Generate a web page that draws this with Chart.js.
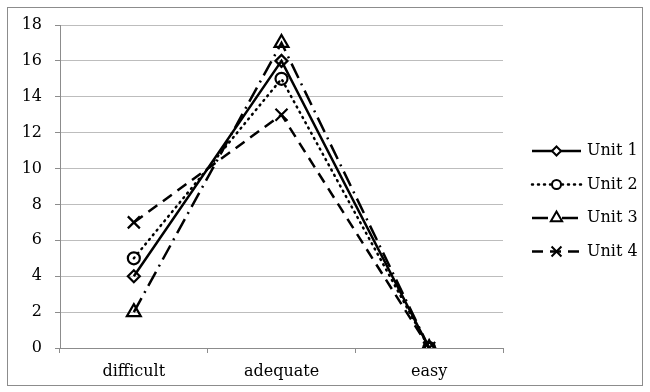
<!DOCTYPE html>
<html>
<head>
<meta charset="utf-8">
<script src="https://cdn.jsdelivr.net/npm/chart.js@4/dist/chart.umd.min.js"></script>
<style>
  html, body { margin: 0; padding: 0; background: #ffffff; }
  #wrap { width: 650px; height: 392px; position: relative; }
</style>
</head>
<body>
<div id="wrap"><canvas id="chart" width="650" height="392"></canvas></div>
<script>
// Categories and per-unit ratings
const categories = ['difficult', 'adequate', 'easy'];
const unit1 = [4, 16, 0];
const unit2 = [5, 15, 0];
const unit3 = [2, 17, 0];
const unit4 = [7, 13, 0];
const seriesNames = ['Unit 1', 'Unit 2', 'Unit 3', 'Unit 4'];
const yTicks = [0, 2, 4, 6, 8, 10, 12, 14, 16, 18];

const FONT = 'DejaVu Serif';
const FONT_SIZE = 16;

const styles = [
  { dash: [], pointStyle: 'rectRot', radius: 6, cap: 'butt' },
  { dash: [1, 5], pointStyle: 'circle', radius: 6, cap: 'round' },
  { dash: [16, 6, 2, 6], pointStyle: 'triangle', radius: 8, cap: 'butt' },
  { dash: [11, 7], pointStyle: 'crossRot', radius: 8.5, cap: 'butt' }
];
const values = [unit1, unit2, unit3, unit4];

const datasets = values.map((v, i) => ({
  label: seriesNames[i],
  data: v,
  borderColor: '#000000',
  backgroundColor: 'rgba(255,255,255,0)',
  borderWidth: 2.5,
  borderDash: styles[i].dash,
  borderCapStyle: styles[i].cap,
  pointStyle: styles[i].pointStyle,
  pointRadius: styles[i].radius,
  pointHoverRadius: styles[i].radius,
  pointBorderWidth: 2.2,
  pointBorderColor: '#000000',
  pointBackgroundColor: 'rgba(255,255,255,0)',
  tension: 0,
  fill: false
}));

// Outer frame and right-hand legend with line + marker samples
const frameAndLegend = {
  id: 'frameAndLegend',
  afterDraw(chart) {
    const ctx = chart.ctx;
    ctx.save();
    ctx.strokeStyle = '#8c8c8c';
    ctx.lineWidth = 1;
    ctx.strokeRect(7.5, 7.5, 635, 378);

    const x0 = 532, x1 = 581, tx = 587;
    chart.data.datasets.forEach((ds, i) => {
      const y = 151 + i * 33.5;
      ctx.beginPath();
      ctx.setLineDash(ds.borderDash);
      ctx.lineCap = ds.borderCapStyle;
      ctx.lineWidth = ds.borderWidth;
      ctx.strokeStyle = '#000';
      ctx.moveTo(x0, y);
      ctx.lineTo(x1, y);
      ctx.stroke();
      ctx.setLineDash([]);
      ctx.lineCap = 'butt';
      ctx.fillStyle = '#fff';
      ctx.strokeStyle = '#000';
      ctx.lineWidth = 2;
      Chart.helpers.drawPoint(ctx, {
        pointStyle: ds.pointStyle,
        radius: ds.pointRadius - 1.5,
        borderWidth: 2,
        rotation: 0
      }, (x0 + x1) / 2, y);
      ctx.fillStyle = '#000';
      ctx.font = FONT_SIZE + 'px "' + FONT + '"';
      ctx.textAlign = 'left';
      ctx.textBaseline = 'middle';
      ctx.fillText(ds.label, tx, y);
    });
    ctx.restore();
  }
};

new Chart(document.getElementById('chart'), {
  type: 'line',
  data: { labels: categories, datasets: datasets },
  options: {
    responsive: false,
    animation: false,
    events: [],
    layout: { padding: { top: 25, right: 147, left: 0, bottom: 0 } },
    plugins: {
      legend: { display: false },
      tooltip: { enabled: false },
      frameAndLegend: {}
    },
    scales: {
      x: {
        offset: true,
        grid: {
          offset: true,
          drawOnChartArea: false,
          drawTicks: true,
          tickLength: 5,
          color: '#8c8c8c'
        },
        border: { color: '#8c8c8c', width: 1 },
        ticks: {
          color: '#000',
          font: { family: FONT, size: FONT_SIZE },
          padding: 9,
          maxRotation: 0
        },
        afterFit(scale) { scale.height = 44; }
      },
      y: {
        min: 0,
        max: 18,
        afterBuildTicks(scale) { scale.ticks = yTicks.map(v => ({ value: v })); },
        grid: {
          color: '#bdbdbd',
          tickLength: 5,
          tickColor: '#8c8c8c'
        },
        border: { color: '#8c8c8c', width: 1 },
        ticks: {
          color: '#000',
          font: { family: FONT, size: FONT_SIZE },
          padding: 13
        },
        afterFit(scale) { scale.width = 60; }
      }
    }
  },
  plugins: [frameAndLegend]
});
</script>
</body>
</html>
